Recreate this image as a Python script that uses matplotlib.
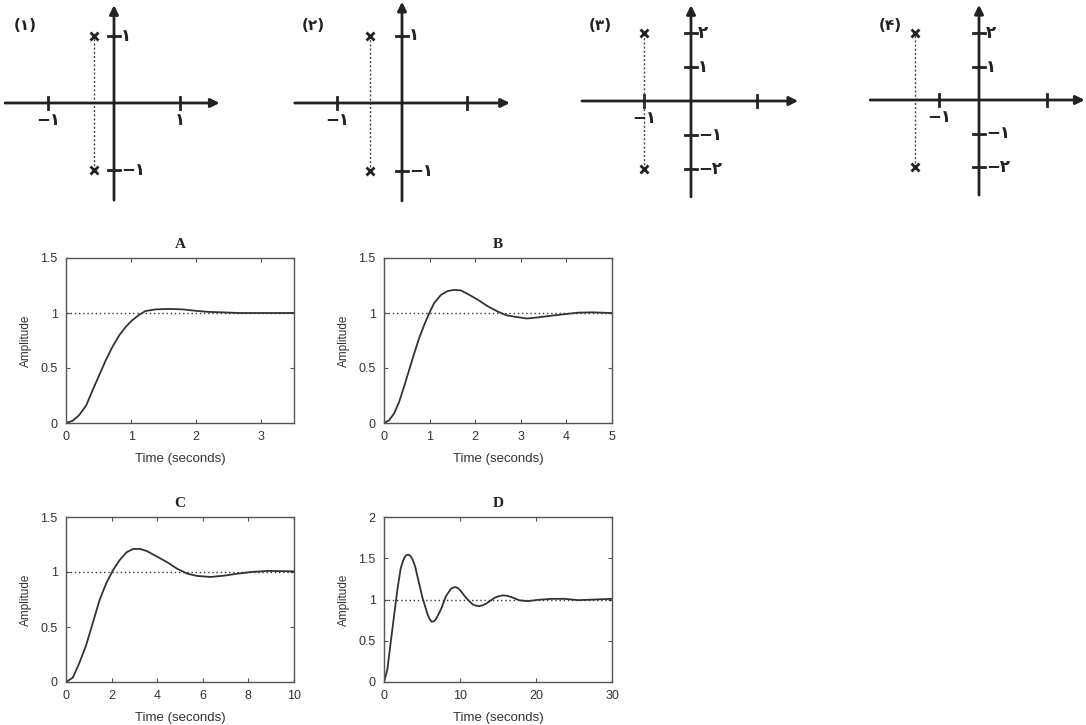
import matplotlib
matplotlib.use("Agg")
import matplotlib.pyplot as plt

W, H = 1086, 725

# pole-zero sketches (1)..(4)
pz_titles = ["(۱)", "(۲)", "(۳)", "(۴)"]
pole_re = [-0.3, -0.5, -1.0, -1.6]
pole_im = [1, 1, 2, 2]
re_ticks = [[-1, 1], [-1, 1], [-1, 1.4], [-1, 1.7]]
re_labels = [["−۱", "۱"], ["−۱", ""], ["−۱", ""], ["−۱", ""]]
im_ticks = [[1, -1], [1, -1], [2, 1, -1, -2], [2, 1, -1, -2]]
im_labels = [["۱", "−۱"], ["۱", "−۱"], ["۲", "۱", "−۱", "−۲"], ["۲", "۱", "−۱", "−۲"]]

# step responses A..D
t_a = [0, 0.1, 0.2, 0.31, 0.41, 0.51, 0.61, 0.71, 0.82, 0.92, 1.02, 1.12, 1.22,
       1.38, 1.58, 1.79, 1.99, 2.19, 2.4, 2.65, 3.5]
y_a = [0, 0.02, 0.07, 0.16, 0.30, 0.435, 0.57, 0.69, 0.80, 0.876, 0.936, 0.982,
       1.018, 1.033, 1.037, 1.033, 1.02, 1.01, 1.006, 1.0, 1.0]
t_b = [0, 0.11, 0.22, 0.33, 0.44, 0.55, 0.66, 0.77, 0.88, 0.99, 1.1, 1.25, 1.4,
       1.54, 1.69, 1.87, 2.06, 2.28, 2.5, 2.68, 2.87, 3.13, 3.38, 3.68, 3.97,
       4.26, 4.56, 5.0]
y_b = [0, 0.024, 0.085, 0.19, 0.33, 0.48, 0.63, 0.77, 0.89, 0.997, 1.09, 1.165,
       1.20, 1.21, 1.205, 1.165, 1.12, 1.06, 1.012, 0.98, 0.966, 0.95, 0.96,
       0.976, 0.99, 1.003, 1.006, 1.0]
t_c = [0, 0.3, 0.59, 0.89, 1.18, 1.48, 1.77, 2.07, 2.36, 2.66, 2.95, 3.25, 3.55,
       3.99, 4.43, 4.87, 5.32, 5.76, 6.35, 6.94, 7.53, 8.12, 8.86, 10.0]
y_c = [0, 0.04, 0.175, 0.34, 0.54, 0.75, 0.90, 1.02, 1.11, 1.18, 1.21, 1.21,
       1.19, 1.14, 1.09, 1.03, 0.985, 0.964, 0.955, 0.967, 0.985, 1.0, 1.01, 1.006]
t_d = [0, 0.44, 0.88, 1.32, 1.76, 2.2, 2.64, 2.9, 3.17, 3.45, 3.74, 4.1, 4.4,
       5.07, 5.73, 6.0, 6.26, 6.55, 6.83, 7.49, 8.15, 8.81, 9.1, 9.38, 9.7,
       10.04, 10.79, 11.67, 12.1, 12.56, 13.0, 13.44, 14.54, 15.1, 15.64, 16.2,
       16.74, 17.84, 18.94, 20.26, 22.03, 23.8, 25.55, 27.75, 30.0]
y_d = [0, 0.15, 0.48, 0.80, 1.12, 1.38, 1.50, 1.535, 1.545, 1.53, 1.49, 1.40,
       1.28, 1.02, 0.82, 0.765, 0.73, 0.735, 0.76, 0.88, 1.04, 1.13, 1.145, 1.15,
       1.14, 1.11, 1.02, 0.94, 0.925, 0.92, 0.93, 0.95, 1.02, 1.04, 1.05, 1.045,
       1.03, 0.99, 0.98, 0.996, 1.008, 1.008, 0.992, 1.0, 1.008]

steps = [
    ("A", t_a, y_a, 3.5, [0, 1, 2, 3], 1.5, [0, 0.5, 1, 1.5]),
    ("B", t_b, y_b, 5, [0, 1, 2, 3, 4, 5], 1.5, [0, 0.5, 1, 1.5]),
    ("C", t_c, y_c, 10, [0, 2, 4, 6, 8, 10], 1.5, [0, 0.5, 1, 1.5]),
    ("D", t_d, y_d, 30, [0, 10, 20, 30], 2, [0, 0.5, 1, 1.5, 2]),
]

fig = plt.figure(figsize=(10.86, 7.25), dpi=100)
plt.rcParams["font.family"] = ["DejaVu Sans", "Noto Sans"]


def px_rect(l, t, r, b):
    return [l / W, 1 - b / H, (r - l) / W, (b - t) / H]


ink = "#222222"

# layout of the sketches, in pixels: panel box, origin, pixels per unit
pz_layout = [
    dict(l=0, r=270, ox=114, oy=103, ux=66, uy=67, re=(-1.65, 1.6), im=(-1.45, 1.46), tx=25),
    dict(l=270, r=540, ox=402, oy=103, ux=65, uy=67.5, re=(-1.65, 1.66), im=(-1.45, 1.5), tx=313),
    dict(l=540, r=820, ox=691, oy=101, ux=47, uy=34, re=(-2.32, 2.28), im=(-2.82, 2.82), tx=600),
    dict(l=820, r=1086, ox=979, oy=100, ux=40, uy=33.5, re=(-2.72, 2.64), im=(-2.84, 2.84), tx=890),
]

for i, lay in enumerate(pz_layout):
    ax = fig.add_axes(px_rect(lay["l"], 0, lay["r"], 210))
    ax.set_xlim((lay["l"] - lay["ox"]) / lay["ux"], (lay["r"] - lay["ox"]) / lay["ux"])
    ax.set_ylim((lay["oy"] - 210) / lay["uy"], lay["oy"] / lay["uy"])
    ax.axis("off")
    arrow = dict(arrowstyle="-|>", lw=2, color=ink, shrinkA=0, shrinkB=0, mutation_scale=13)
    ax.annotate("", xy=(lay["re"][1], 0), xytext=(lay["re"][0], 0), arrowprops=arrow)
    ax.annotate("", xy=(0, lay["im"][1]), xytext=(0, lay["im"][0]), arrowprops=arrow)
    hx = 6 / lay["ux"]
    hy = 6 / lay["uy"]
    for v, s in zip(re_ticks[i], re_labels[i]):
        ax.plot([v, v], [-hy, hy], color=ink, lw=2)
        if s:
            ax.annotate(s, (v, 0), xytext=(0, -12), textcoords="offset points",
                        ha="center", va="center", fontsize=12, fontweight="bold",
                        color=ink)
    for v, s in zip(im_ticks[i], im_labels[i]):
        ax.plot([-hx, hx], [v, v], color=ink, lw=2)
        ax.annotate(s, (0, v), xytext=(5, 0), textcoords="offset points",
                    ha="left", va="center", fontsize=12, fontweight="bold", color=ink)
    p = pole_re[i]
    q = pole_im[i]
    ax.plot([p, p], [-q, q], color="#444444", lw=1, ls=(0, (1.5, 1.5)))
    ax.plot([p, p], [-q, q], ls="none", marker="x", ms=6, mew=2, color=ink)
    fig.text(lay["tx"] / W, 1 - 25 / H, pz_titles[i], ha="center", va="center",
             fontsize=11, fontweight="bold", color=ink)

# step response panels
boxes = [(66, 258, 294, 423), (384, 258, 612, 423), (66, 517, 294, 682), (384, 517, 612, 682)]
for (name, t, y, tmax, xt, ymax, yt), box in zip(steps, boxes):
    ax = fig.add_axes(px_rect(*box))
    ax.plot([0, tmax], [1, 1], color="#333333", lw=1, ls=(0, (1, 2)))
    ax.plot(t, y, color="#333333", lw=1.3)
    ax.set_xlim(0, tmax)
    ax.set_ylim(0, ymax)
    ax.set_xticks(xt)
    ax.set_xticklabels([f"{v:g}" for v in xt], family="Liberation Sans")
    ax.set_yticks(yt)
    ax.set_yticklabels([f"{v:g}" for v in yt], family="Liberation Sans")
    ax.tick_params(direction="in", top=True, right=True, length=3, width=0.8,
                   colors="#555555", labelcolor="#333333", labelsize=9, pad=6)
    for sp in ax.spines.values():
        sp.set_color("#555555")
        sp.set_linewidth(1)
    ax.set_title(name, family="Liberation Serif", fontweight="bold", fontsize=11,
                 pad=7, color=ink)
    ax.set_xlabel("Time (seconds)", family="Liberation Sans", fontsize=9.5,
                  color="#333333", labelpad=7)
    ax.set_ylabel("Amplitude", family="Liberation Sans", fontsize=8.5,
                  color="#333333", labelpad=6)

fig.savefig("out.png", dpi=100)
